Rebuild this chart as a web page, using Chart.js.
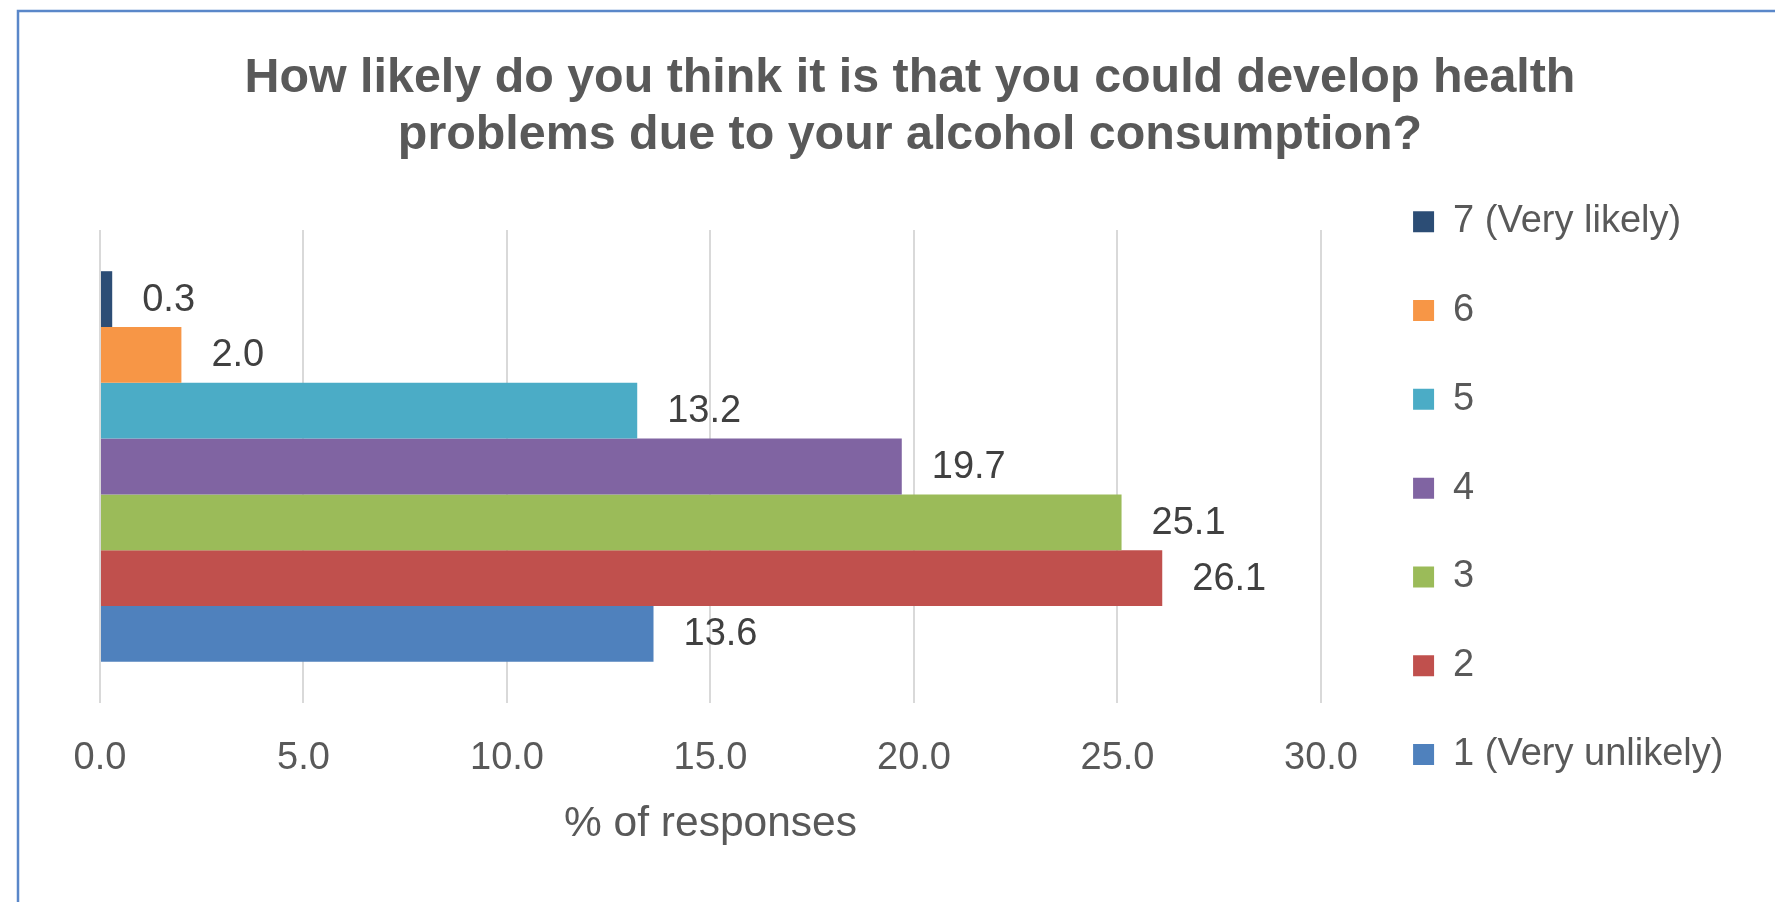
<!DOCTYPE html>
<html><head><meta charset="utf-8">
<script src="https://cdn.jsdelivr.net/npm/chart.js@4/dist/chart.umd.min.js"></script>
<style>html,body{margin:0;padding:0;background:#fff;overflow:hidden}</style>
</head><body>
<canvas id="c" width="1775" height="902"></canvas>
<script>
const categories = [''];
const seriesLabels = ['7 (Very likely)', '6', '5', '4', '3', '2', '1 (Very unlikely)'];
const seriesValues = [0.3, 2.0, 13.2, 19.7, 25.1, 26.1, 13.6];
const seriesColors = ['#2c4d75', '#f79646', '#4bacc6', '#8064a2', '#9bbb59', '#c0504d', '#4f81bd'];
const xTickValues = [0, 5, 10, 15, 20, 25, 30];
const chartTitle = ['How likely do you think it is that you could develop health', 'problems due to your alcohol consumption?'];
const xAxisTitle = '% of responses';

const FONT = "'Liberation Sans', Arial, Helvetica, sans-serif";
const GREY = '#595959';

const frame = {
  id: 'frame',
  beforeDraw(chart) {
    const ctx = chart.ctx;
    ctx.save();
    ctx.fillStyle = '#ffffff';
    ctx.fillRect(0, 0, chart.width, chart.height);
    ctx.strokeStyle = '#5a87c9';
    ctx.lineWidth = 2.5;
    ctx.strokeRect(18, 11, 3000, 3000);
    ctx.restore();
  }
};

const valueLabels = {
  id: 'valueLabels',
  afterDatasetsDraw(chart) {
    const ctx = chart.ctx;
    ctx.save();
    ctx.font = '38px ' + FONT;
    ctx.fillStyle = '#404040';
    ctx.textAlign = 'left';
    ctx.textBaseline = 'middle';
    chart.data.datasets.forEach((ds, i) => {
      const meta = chart.getDatasetMeta(i);
      const el = meta.data[0];
      if (!el) return;
      ctx.fillText(Number(ds.data[0]).toFixed(1), el.x + 30, el.y + 1);
    });
    ctx.restore();
  }
};

const datasets = seriesLabels.map((label, i) => ({
  label: label,
  data: [seriesValues[i]],
  backgroundColor: seriesColors[i],
  borderWidth: 0,
  categoryPercentage: 0.826,
  barPercentage: 1.0,
  xAxisID: 'x',
  yAxisID: 'y'
}));

new Chart(document.getElementById('c'), {
  type: 'bar',
  data: { labels: categories, datasets: datasets },
  plugins: [frame, valueLabels],
  options: {
    responsive: false,
    animation: false,
    indexAxis: 'y',
    layout: { padding: { left: 100, right: 41.6, top: 0, bottom: 0 } },
    plugins: {
      tooltip: { enabled: false },
      title: {
        display: true,
        text: chartTitle.map(t => t + ' '),
        color: GREY,
        font: { family: FONT, size: 48.4, weight: 'bold', lineHeight: 1.17 },
        padding: { top: 50.5, bottom: 66.3 }
      },
      legend: {
        position: 'right',
        align: 'center',
        labels: {
          boxWidth: 21,
          boxHeight: 21,
          padding: 50.8,
          color: GREY,
          font: { family: FONT, size: 38 }
        },
        title: { display: true, text: ' ', padding: 0, font: { size: 10, lineHeight: 7.43 } }
      }
    },
    scales: {
      x: {
        type: 'linear',
        position: 'bottom',
        min: 0,
        max: 30,
        afterBuildTicks(s) { s.ticks = xTickValues.map(v => ({ value: v })); },
        ticks: {
          callback: v => Number(v).toFixed(1),
          color: GREY,
          font: { family: FONT, size: 38 },
          padding: 33,
          maxRotation: 0
        },
        grid: { color: '#d9d9d9', lineWidth: 2, drawTicks: false },
        border: { display: false },
        title: {
          display: true,
          text: xAxisTitle,
          color: GREY,
          font: { family: FONT, size: 42.5 },
          padding: { top: 0, bottom: 52 }
        },
        afterFit(s) { s.height = 199; }
      },
      y: {
        type: 'category',
        position: 'left',
        display: false
      },
      yR: {
        type: 'category',
        axis: 'y',
        labels: categories,
        position: 'right',
        ticks: { display: false },
        grid: { display: false },
        border: { display: false },
        afterFit(s) { s.width = 41.3; }
      }
    }
  }
});
</script>
</body></html>
